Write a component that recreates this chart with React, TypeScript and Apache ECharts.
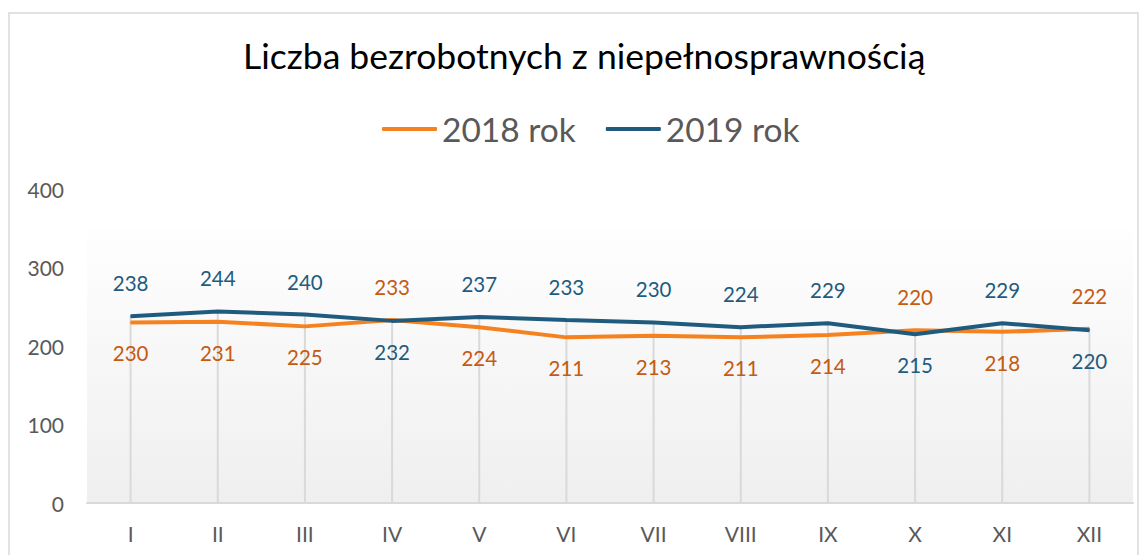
import React, { useEffect, useRef } from "react";
import * as echarts from "echarts";

const months = ["I", "II", "III", "IV", "V", "VI", "VII", "VIII", "IX", "X", "XI", "XII"];
const values2018 = [230, 231, 225, 233, 224, 211, 213, 211, 214, 220, 218, 222];
const values2019 = [238, 244, 240, 232, 237, 233, 230, 224, 229, 215, 229, 220];
const yTicks = [0, 100, 200, 300, 400];

const FONT = "Lato, 'Open Sans', sans-serif";

export default function App() {
  const ref = useRef<HTMLDivElement>(null);
  useEffect(() => {
    if (!ref.current) return;
    const chart = echarts.init(ref.current, undefined, { renderer: "svg" });
    const dropVals = months.map((_, i) => Math.max(values2018[i], values2019[i]));
    const mkData = (own: number[], other: number[]) =>
      own.map((v, i) => ({
        value: v,
        label: {
          position: v >= other[i] ? "top" : "bottom",
          distance: v >= other[i] ? 22 : 20,
        },
      }));
    chart.setOption({
      animation: false,
      backgroundColor: "#ffffff",
      title: {
        text: "Liczba bezrobotnych z niepełnosprawnością",
        left: 238,
        top: 32,
        textStyle: { fontFamily: FONT, fontSize: 35.5, fontWeight: "normal", color: "#000000" },
      },
      legend: {
        data: ["2018 rok", "2019 rok"],
        top: 107,
        left: 377,
        itemWidth: 55,
        itemHeight: 4,
        itemGap: 30,
        icon: "roundRect",
        textStyle: { fontFamily: FONT, fontSize: 33.5, color: "#595959" },
      },
      graphic: [
        {
          type: "rect",
          z: -10,
          silent: true,
          shape: { x: 9, y: 13, width: 1129, height: 600 },
          style: { fill: "none", stroke: "#d9d9d9", lineWidth: 1.5 },
        },
        {
          type: "rect",
          z: -5,
          silent: true,
          shape: { x: 87, y: 230, width: 1046, height: 273 },
          style: {
            fill: new echarts.graphic.LinearGradient(0, 0, 0, 1, [
              { offset: 0, color: "#fefefe" },
              { offset: 1, color: "#efefef" },
            ]),
          },
        },
      ],
      grid: { left: 87, right: 14, top: 189, bottom: 52, containLabel: false },
      xAxis: {
        type: "category",
        data: months,
        boundaryGap: true,
        axisLine: { lineStyle: { color: "#d9d9d9", width: 2 } },
        axisTick: { show: false },
        axisLabel: { fontFamily: FONT, fontSize: 21, color: "#595959", margin: 20 },
        splitLine: { show: false },
      },
      yAxis: {
        type: "value",
        min: yTicks[0],
        max: yTicks[yTicks.length - 1],
        interval: 100,
        axisLine: { show: false },
        axisTick: { show: false },
        splitLine: { show: false },
        axisLabel: { fontFamily: FONT, fontSize: 21, color: "#595959", margin: 23 },
      },
      series: [
        {
          name: "drop",
          type: "bar",
          data: dropVals,
          barWidth: 2,
          silent: true,
          itemStyle: { color: "#d9d9d9" },
          z: 1,
        },
        {
          name: "2018 rok",
          type: "line",
          data: mkData(values2018, values2019),
          symbol: "circle",
          symbolSize: 1,
          showSymbol: true,
          lineStyle: { color: "#f5821f", width: 4 },
          itemStyle: { color: "#f5821f" },
          label: { show: true, fontFamily: FONT, fontSize: 20.5, color: "#c55a11" },
          z: 3,
        },
        {
          name: "2019 rok",
          type: "line",
          data: mkData(values2019, values2018),
          symbol: "circle",
          symbolSize: 1,
          showSymbol: true,
          lineStyle: { color: "#1f5b7e", width: 4 },
          itemStyle: { color: "#1f5b7e" },
          label: { show: true, fontFamily: FONT, fontSize: 20.5, color: "#1f5b7e" },
          z: 4,
        },
      ],
    });
    return () => chart.dispose();
  }, []);
  return (
    <div
      ref={ref}
      style={{ position: "absolute", left: 0, top: 0, width: 1147, height: 555 }}
    />
  );
}
